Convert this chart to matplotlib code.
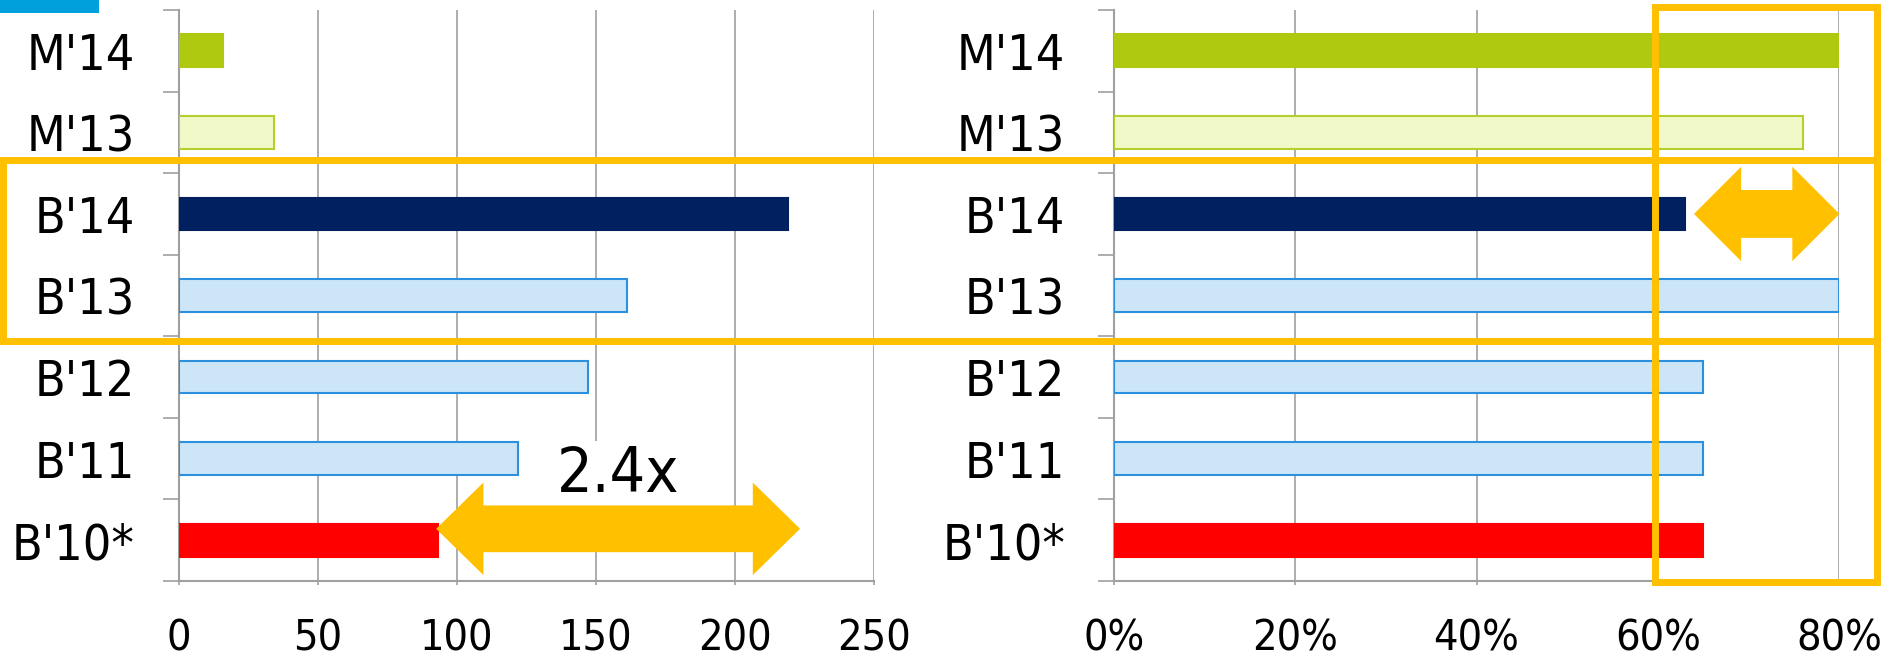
import matplotlib.pyplot as plt
from matplotlib.patches import Rectangle, Polygon
from matplotlib.ticker import PercentFormatter

plt.rcParams['font.family'] = ['DejaVu Sans']
plt.rcParams['font.stretch'] = 'condensed'

# data
categories = ["M'14", "M'13", "B'14", "B'13", "B'12", "B'11", "B'10*"]
counts = [16, 34, 219, 161, 147, 122, 93]
shares = [0.80, 0.76, 0.63, 0.80, 0.65, 0.65, 0.65]
count_ticks = [0, 50, 100, 150, 200, 250]
share_ticks = [0, 0.2, 0.4, 0.6, 0.8]

fills = ['#aec90f', '#f2f9c8', '#002060', '#cce6f8', '#cce6f8', '#cce6f8', '#ff0000']
edges = ['#aec90f', '#b3d12e', '#002060', '#2b91de', '#2b91de', '#2b91de', '#ff0000']
ORANGE = '#ffc000'
GRAY = '#a0a0a0'

W, H = 1895, 662
fig = plt.figure(figsize=(W / 100, H / 100), dpi=100)


def px_box(x0, y0, x1, y1):
    # pixel box (top-left origin) -> figure fraction [left, bottom, width, height]
    return [x0 / W, 1 - y1 / H, (x1 - x0) / W, (y1 - y0) / H]


def style_axes(ax, vals, ticks, xmax, ypad):
    n = len(categories)
    y = list(range(n))
    ax.barh(y, vals, height=0.4, color=fills, edgecolor=edges, linewidth=1.5, zorder=3)
    ax.set_ylim(n - 0.5, -0.5)
    ax.set_xlim(0, xmax)
    ax.set_yticks(y)
    ax.set_yticklabels(categories)
    ax.set_yticks([i - 0.5 for i in range(n + 1)], minor=True)
    ax.tick_params(axis='y', which='major', length=0, pad=ypad, labelsize=36)
    ax.tick_params(axis='y', which='minor', length=11.5, width=1.2, color=GRAY)
    ax.set_xticks(ticks)
    ax.tick_params(axis='x', length=3, width=1.2, color=GRAY, pad=23, labelsize=31)
    ax.grid(axis='x', color=GRAY, linewidth=1.2)
    ax.set_axisbelow(True)
    for s in ['top', 'right']:
        ax.spines[s].set_visible(False)
    for s in ['left', 'bottom']:
        ax.spines[s].set_color(GRAY)
        ax.spines[s].set_linewidth(1.5)


def double_arrow(ax, x0, x1, yc, head_len, head_w, shaft_w):
    hw, sw = head_w / 2, shaft_w / 2
    pts = [(x0, yc), (x0 + head_len, yc - hw), (x0 + head_len, yc - sw),
           (x1 - head_len, yc - sw), (x1 - head_len, yc - hw), (x1, yc),
           (x1 - head_len, yc + hw), (x1 - head_len, yc + sw),
           (x0 + head_len, yc + sw), (x0 + head_len, yc + hw)]
    ax.add_patch(Polygon(pts, closed=True, facecolor=ORANGE, edgecolor='none',
                         zorder=6, clip_on=False))


ax1 = fig.add_axes(px_box(179, 10, 874, 581))
style_axes(ax1, counts, count_ticks, 250, 32)

ax2 = fig.add_axes(px_box(1114, 10, 1839, 581))
style_axes(ax2, shares, share_ticks, 0.8, 35)
ax2.xaxis.set_major_formatter(PercentFormatter(1.0, decimals=0))

# annotations
double_arrow(ax1, 92.5, 223.4, 5.86, 17, 1.135, 0.573)
ax1.text(158, 5.2, '2.4x', fontsize=45, ha='center', va='center', zorder=5,
         bbox=dict(facecolor='white', edgecolor='none', pad=3))
double_arrow(ax2, 0.640, 0.8005, 2.0, 0.052, 1.157, 0.587)

# orange highlight frames and the small blue tab
fig.patches.append(Rectangle((3 / W, 1 - 341 / H), (1877 - 3) / W, (341 - 160) / H,
                             transform=fig.transFigure, fill=False,
                             edgecolor=ORANGE, linewidth=5, zorder=7))
fig.patches.append(Rectangle((1655 / W, 1 - 582 / H), (1877 - 1655) / W, (582 - 7) / H,
                             transform=fig.transFigure, fill=False,
                             edgecolor=ORANGE, linewidth=5, zorder=7))
fig.patches.append(Rectangle((0, 1 - 13 / H), 99 / W, 13 / H,
                             transform=fig.transFigure, facecolor='#00a0dc',
                             edgecolor='none', zorder=7))

fig.savefig('out.png', dpi=100, facecolor='white')
